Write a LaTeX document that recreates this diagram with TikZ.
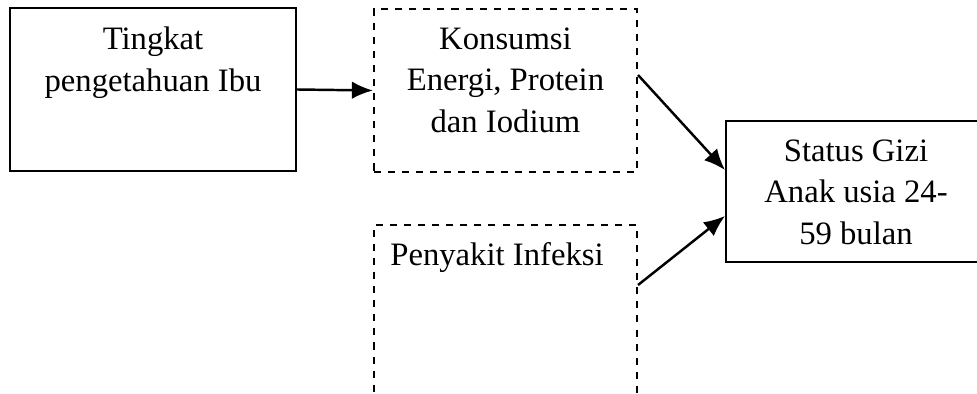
\documentclass[tikz,border=0pt]{standalone}
\usepackage{fontspec}
\setmainfont{Liberation Serif}
\usetikzlibrary{arrows.meta,positioning}

\begin{document}
\begin{tikzpicture}[x=0.02cm, y=-0.02cm,
    kotak/.style={draw, line width=1.2pt, minimum width=#1, inner sep=0pt},
    putus/.style={line width=1.2pt, dash pattern=on 4pt off 4pt},
    teks/.style={align=center, inner sep=0pt, font=\fontsize{18.6}{23.6}\selectfont},
    panah/.style={-{Latex[length=12pt, width=10pt]}, line width=1.4pt}]
    \useasboundingbox (0,0) rectangle (977,394);

    % Kotak kiri
    \node[kotak=5.72cm, minimum height=3.26cm] (tingkat) at (153,89.5) {};
    \node[teks, below=0.4cm of tingkat.north] (tingkat-t) {Tingkat\\pengetahuan Ibu};

    % Kotak tengah atas (putus-putus)
    \node[kotak=5.26cm, minimum height=3.26cm, putus] (konsumsi) at (505.5,90.5) {};
    \node[teks, below=0.39cm of konsumsi.north] (konsumsi-t) {Konsumsi\\Energi, Protein\\dan Iodium};

    % Kotak tengah bawah (terpotong di bawah)
    \node[kotak=5.26cm, minimum height=4cm, putus] (infeksi) at (505.5,325) {};
    \node[teks, below=0.37cm of infeksi.north, xshift=-0.17cm] (infeksi-t) {Penyakit Infeksi};

    % Kotak kanan
    \node[kotak=5.2cm, minimum height=2.82cm] (status) at (856,191.5) {};
    \node[teks, below=0.39cm of status.north] (status-t) {Status Gizi\\Anak usia 24-\\59 bulan};

    % Panah
    \draw[panah] (tingkat.east) -- (konsumsi.west);
    \draw[panah] ([yshift=0.31cm]konsumsi.east) -- ([yshift=0.43cm]status.west);
    \draw[panah] ([yshift=0.8cm]infeksi.east) -- ([yshift=-0.49cm]status.west);
\end{tikzpicture}
\end{document}
